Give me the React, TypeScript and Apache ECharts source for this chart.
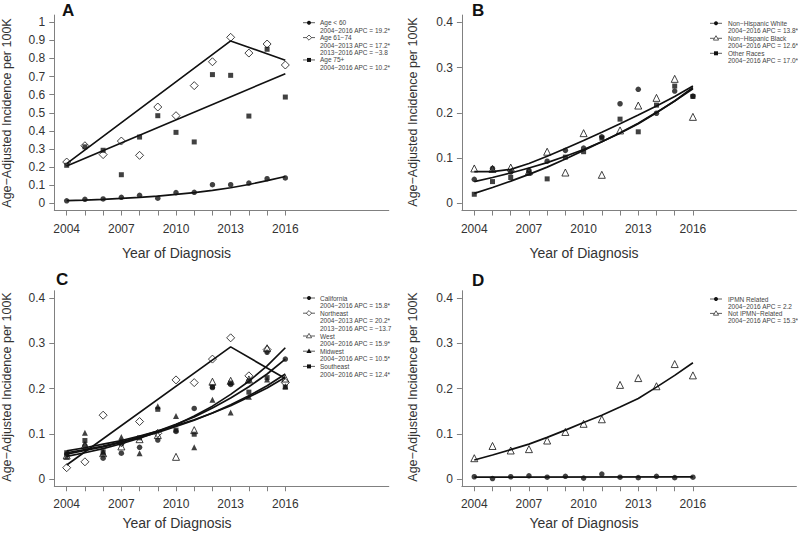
import React, { useEffect, useRef } from "react";
import * as echarts from "echarts";

// ---------- shared axis values ----------
const years = [2004, 2005, 2006, 2007, 2008, 2009, 2010, 2011, 2012, 2013, 2014, 2015, 2016];
const xLabelYears = [2004, 2007, 2010, 2013, 2016];
const yTicksA = [0, 0.1, 0.2, 0.3, 0.4, 0.5, 0.6, 0.7, 0.8, 0.9, 1];
const yTicksSmall = [0, 0.1, 0.2, 0.3, 0.4];
const panelLetters = ["A", "B", "C", "D"];
const xTitle = "Year of Diagnosis";
const yTitle = "Age\u2212Adjusted Incidence per 100K";

// ---------- Panel A: age groups ----------
const ageUnder60 = [0.014, 0.022, 0.024, 0.033, 0.044, 0.028, 0.059, 0.061, 0.103, 0.103, 0.112, 0.136, 0.14];
const age61to74 = [0.228, 0.318, 0.269, 0.344, 0.265, 0.532, 0.484, 0.65, 0.782, 0.917, 0.83, 0.88, 0.764];
const age75plus = [0.21, 0.312, 0.293, 0.158, 0.366, 0.484, 0.392, 0.339, 0.711, 0.707, 0.482, 0.851, 0.587];
const fitUnder60 = [0.015, 0.018, 0.022, 0.027, 0.033, 0.04, 0.049, 0.059, 0.071, 0.086, 0.104, 0.125, 0.148];
const fit61to74Years = [2004, 2013, 2016];
const fit61to74 = [0.219, 0.897, 0.79];
const fit75plusYears = [2004, 2016];
const fit75plus = [0.206, 0.716];

// ---------- Panel B: race ----------
const nhWhite = [0.053, 0.077, 0.069, 0.073, 0.093, 0.117, 0.122, 0.147, 0.22, 0.252, 0.199, 0.248, 0.237];
const nhBlack = [0.077, 0.076, 0.079, 0.071, 0.114, 0.068, 0.155, 0.063, 0.161, 0.216, 0.233, 0.275, 0.191];
const otherRaces = [0.02, 0.048, 0.057, 0.066, 0.054, 0.102, 0.114, 0.144, 0.186, 0.158, 0.217, 0.259, 0.236];
const fitBlack = [0.07, 0.07, 0.075, 0.088, 0.104, 0.121, 0.139, 0.157, 0.176, 0.195, 0.215, 0.236, 0.259];
const fitWhite = [0.048, 0.057, 0.067, 0.078, 0.09, 0.104, 0.119, 0.136, 0.155, 0.176, 0.2, 0.226, 0.256];
const fitOther = [0.022, 0.035, 0.049, 0.064, 0.08, 0.098, 0.117, 0.136, 0.156, 0.177, 0.201, 0.226, 0.253];

// ---------- Panel C: region ----------
const california = [0.055, 0.074, 0.046, 0.057, 0.07, 0.086, 0.105, 0.156, 0.202, 0.209, 0.217, 0.28, 0.265];
const northeast = [0.025, 0.038, 0.141, 0.08, 0.127, 0.101, 0.219, 0.213, 0.265, 0.312, 0.228, 0.286, 0.213];
const west = [0.052, 0.075, 0.057, 0.072, 0.088, 0.097, 0.049, 0.108, 0.215, 0.217, 0.22, 0.289, 0.222];
const midwest = [0.049, 0.102, 0.058, 0.093, 0.057, 0.161, 0.139, 0.07, 0.175, 0.147, 0.182, 0.22, 0.205];
const southeast = [0.058, 0.085, 0.06, 0.079, 0.091, 0.154, 0.108, 0.099, 0.204, 0.212, 0.192, 0.224, 0.203];
const fitCalifornia = [0.055, 0.063, 0.071, 0.081, 0.093, 0.106, 0.121, 0.137, 0.157, 0.179, 0.204, 0.232, 0.265];
const fitNortheastYears = [2004, 2013, 2016];
const fitNortheast = [0.031, 0.292, 0.222];
const fitWest = [0.05, 0.058, 0.067, 0.078, 0.09, 0.104, 0.12, 0.139, 0.161, 0.187, 0.216, 0.25, 0.29];
const fitMidwest = [0.062, 0.069, 0.077, 0.085, 0.095, 0.106, 0.118, 0.131, 0.146, 0.162, 0.181, 0.201, 0.225];
const fitSoutheast = [0.058, 0.065, 0.073, 0.082, 0.092, 0.103, 0.116, 0.13, 0.146, 0.164, 0.184, 0.206, 0.232];

// ---------- Panel D: IPMN ----------
const ipmnRelated = [0.005, 0.001, 0.005, 0.007, 0.004, 0.006, 0.002, 0.011, 0.004, 0.003, 0.006, 0.003, 0.004];
const notIpmn = [0.046, 0.073, 0.063, 0.066, 0.085, 0.104, 0.122, 0.132, 0.208, 0.223, 0.205, 0.254, 0.229];
const fitIpmnYears = [2004, 2016];
const fitIpmn = [0.0042, 0.0046];
const fitNotIpmn = [0.042, 0.053, 0.065, 0.077, 0.092, 0.108, 0.125, 0.141, 0.159, 0.178, 0.203, 0.229, 0.257];

// ---------- legend texts ----------
const legendA = [
  { symbol: "circle", lines: ["Age < 60", "2004\u22122016 APC = 19.2*"] },
  { symbol: "diamond", lines: ["Age 61\u221274", "2004\u22122013 APC = 17.2*", "2013\u22122016 APC = \u22123.8"] },
  { symbol: "square", lines: ["Age 75+", "2004\u22122016 APC = 10.2*"] },
];
const legendB = [
  { symbol: "circle", lines: ["Non\u2212Hispanic White", "2004\u22122016 APC = 13.8*"] },
  { symbol: "triangle", lines: ["Non\u2212Hispanic Black", "2004\u22122016 APC = 12.6*"] },
  { symbol: "square", lines: ["Other Races", "2004\u22122016 APC = 17.0*"] },
];
const legendC = [
  { symbol: "circle", lines: ["California", "2004\u22122016 APC = 15.8*"] },
  { symbol: "diamond", lines: ["Northeast", "2004\u22122013 APC = 20.2*", "2013\u22122016 APC = \u221213.7"] },
  { symbol: "triangle", lines: ["West", "2004\u22122016 APC = 15.9*"] },
  { symbol: "filledTriangle", lines: ["Midwest", "2004\u22122016 APC = 10.5*"] },
  { symbol: "square", lines: ["Southeast", "2004\u22122016 APC = 12.4*"] },
];
const legendD = [
  { symbol: "circle", lines: ["IPMN Related", "2004\u22122016 APC = 2.2"] },
  { symbol: "triangle", lines: ["Not IPMN\u2212Related", "2004\u22122016 APC = 15.3*"] },
];

// ---------- layout ----------
const FONT = "'Liberation Sans', Arial, Helvetica, sans-serif";
const INK = "#111";
const AXIS = "#808080";
const GRID_W = 334.5;
const GRID_H = 195.5;
const panels = [
  { left: 54.3, top: 15.05, yMin: -0.04, yMax: 1.04, yTicks: yTicksA },
  { left: 461.9, top: 15.05, yMin: -0.016, yMax: 0.416, yTicks: yTicksSmall },
  { left: 54.3, top: 290.75, yMin: -0.016, yMax: 0.416, yTicks: yTicksSmall },
  { left: 461.9, top: 290.75, yMin: -0.016, yMax: 0.416, yTicks: yTicksSmall },
];

function pts(xs: number[], ys: number[]) {
  return xs.map((x, i) => [x, ys[i]]);
}

function scatter(g: number, name: string, ys: number[], symbol: string, size: number, open: boolean) {
  return {
    type: "scatter",
    name,
    xAxisIndex: g,
    yAxisIndex: g,
    data: pts(years, ys),
    symbol,
    symbolSize: size,
    itemStyle: open
      ? { color: "rgba(255,255,255,0)", borderColor: INK, borderWidth: 1 }
      : { color: INK, borderWidth: 0 },
    z: 3,
    silent: true,
  };
}

function fitLine(g: number, name: string, xs: number[], ys: number[]) {
  return {
    type: "line",
    name,
    xAxisIndex: g,
    yAxisIndex: g,
    data: pts(xs, ys),
    symbol: "none",
    smooth: false,
    lineStyle: { color: INK, width: 1.7 },
    z: 2,
    silent: true,
  };
}

function marker(symbol: string, cx: number, cy: number) {
  const s = 2.6;
  if (symbol === "circle") return { type: "circle", shape: { cx, cy, r: 2 }, style: { fill: INK } };
  if (symbol === "square") return { type: "rect", shape: { x: cx - 2, y: cy - 2, width: 4, height: 4 }, style: { fill: INK } };
  if (symbol === "diamond")
    return {
      type: "polygon",
      shape: { points: [[cx, cy - s], [cx + s, cy], [cx, cy + s], [cx - s, cy]] },
      style: { fill: "#fff", stroke: "#333", lineWidth: 0.8 },
    };
  const filled = symbol === "filledTriangle";
  return {
    type: "polygon",
    shape: { points: [[cx, cy - s], [cx + s, cy + 1.8], [cx - s, cy + 1.8]] },
    style: filled ? { fill: INK } : { fill: "#fff", stroke: "#333", lineWidth: 0.8 },
  };
}

function legend(x1: number, x2: number, tx: number, y0: number, dy: number, items: { symbol: string; lines: string[] }[]) {
  const els: any[] = [];
  let row = 0;
  for (const it of items) {
    const y = y0 + row * dy;
    els.push({ type: "line", shape: { x1, y1: y, x2, y2: y }, style: { stroke: "#333", lineWidth: 0.8 } });
    els.push(marker(it.symbol, (x1 + x2) / 2, y));
    it.lines.forEach((t, k) => {
      els.push({
        type: "text",
        x: tx,
        y: y0 + (row + k) * dy,
        style: {
          text: t,
          fill: "#444",
          font: `6.5px ${FONT}`,
          textAlign: "left",
          textVerticalAlign: "middle",
          verticalAlign: "middle",
        },
      });
    });
    row += it.lines.length;
  }
  return els;
}

function label(text: string, x: number, y: number, size: number, bold = false, rotate = 0, align = "center") {
  return {
    type: "text",
    x,
    y,
    rotation: rotate,
    style: {
      text,
      fill: bold ? "#111" : "#333",
      font: `${bold ? "bold " : ""}${size}px ${FONT}`,
      textAlign: align,
      textVerticalAlign: "middle",
      verticalAlign: "middle",
    },
  };
}

function buildOption() {
  const grid = panels.map((p) => ({
    left: p.left,
    top: p.top,
    width: GRID_W,
    height: GRID_H,
    containLabel: false,
    outerBoundsMode: "none",
  }));
  const xAxis = panels.map((_, i) => ({
    gridIndex: i,
    type: "value",
    min: 2003.32,
    max: 2021.68,
    axisLine: { show: true, onZero: false, lineStyle: { color: AXIS, width: 1 } },
    axisTick: { show: true, customValues: years, length: 5, lineStyle: { color: AXIS, width: 1 } },
    axisLabel: {
      show: true,
      customValues: xLabelYears,
      margin: 12,
      color: "#333",
      fontSize: 12,
      fontFamily: FONT,
      formatter: (v: number) => String(v),
    },
    splitLine: { show: false },
  }));
  const yAxis = panels.map((p, i) => ({
    gridIndex: i,
    type: "value",
    min: p.yMin,
    max: p.yMax,
    axisLine: { show: true, onZero: false, lineStyle: { color: AXIS, width: 1 } },
    axisTick: { show: true, customValues: p.yTicks, length: 5, lineStyle: { color: AXIS, width: 1 } },
    axisLabel: {
      show: true,
      customValues: p.yTicks,
      margin: 9,
      color: "#333",
      fontSize: 12,
      fontFamily: FONT,
      formatter: (v: number) => String(parseFloat(Number(v).toFixed(1))),
    },
    splitLine: { show: false },
  }));

  const series = [
    // A
    fitLine(0, "fit <60", years, fitUnder60),
    fitLine(0, "fit 61-74", fit61to74Years, fit61to74),
    fitLine(0, "fit 75+", fit75plusYears, fit75plus),
    scatter(0, "Age < 60", ageUnder60, "circle", 5.5, false),
    scatter(0, "Age 61-74", age61to74, "diamond", 8, true),
    scatter(0, "Age 75+", age75plus, "rect", 5, false),
    // B
    fitLine(1, "fit black", years, fitBlack),
    fitLine(1, "fit white", years, fitWhite),
    fitLine(1, "fit other", years, fitOther),
    scatter(1, "Non-Hispanic White", nhWhite, "circle", 5.5, false),
    scatter(1, "Non-Hispanic Black", nhBlack, "triangle", 7, true),
    scatter(1, "Other Races", otherRaces, "rect", 5, false),
    // C
    fitLine(2, "fit CA", years, fitCalifornia),
    fitLine(2, "fit NE", fitNortheastYears, fitNortheast),
    fitLine(2, "fit W", years, fitWest),
    fitLine(2, "fit MW", years, fitMidwest),
    fitLine(2, "fit SE", years, fitSoutheast),
    scatter(2, "California", california, "circle", 5.5, false),
    scatter(2, "Northeast", northeast, "diamond", 8, true),
    scatter(2, "West", west, "triangle", 7, true),
    scatter(2, "Midwest", midwest, "triangle", 6, false),
    scatter(2, "Southeast", southeast, "rect", 5, false),
    // D
    fitLine(3, "fit IPMN", fitIpmnYears, fitIpmn),
    fitLine(3, "fit not IPMN", years, fitNotIpmn),
    scatter(3, "IPMN Related", ipmnRelated, "circle", 5.5, false),
    scatter(3, "Not IPMN-Related", notIpmn, "triangle", 7, true),
  ];

  const graphic = [
    label(panelLetters[0], 62, 10, 17, true, 0, "left"),
    label(panelLetters[1], 472, 10, 17, true, 0, "left"),
    label(panelLetters[2], 56, 279.5, 17, true, 0, "left"),
    label(panelLetters[3], 472, 280.5, 17, true, 0, "left"),
    label(xTitle, 176.5, 253, 14),
    label(xTitle, 584, 253, 14),
    label(xTitle, 177, 523, 14),
    label(xTitle, 584, 523, 14),
    label(yTitle, 6.5, 113, 12.5, false, Math.PI / 2),
    label(yTitle, 413, 112, 12.5, false, Math.PI / 2),
    label(yTitle, 6.5, 387, 12.5, false, Math.PI / 2),
    label(yTitle, 413, 387, 12.5, false, Math.PI / 2),
    ...legend(303, 315, 320, 22.7, 7.45, legendA),
    ...legend(710, 722, 728, 23.3, 7.5, legendB),
    ...legend(303, 315, 320, 298, 7.6, legendC),
    ...legend(710, 722, 728, 299, 7.2, legendD),
  ];

  return {
    animation: false,
    backgroundColor: "#ffffff",
    textStyle: { fontFamily: FONT },
    grid,
    xAxis,
    yAxis,
    series,
    graphic,
  };
}

export default function App() {
  const ref = useRef<HTMLDivElement>(null);
  useEffect(() => {
    if (!ref.current) return;
    const chart = echarts.init(ref.current, undefined, { renderer: "svg" });
    chart.setOption(buildOption() as any);
    return () => chart.dispose();
  }, []);
  return (
    <div
      ref={ref}
      style={{ position: "fixed", left: 0, top: 0, width: 798, height: 537, background: "#fff" }}
    />
  );
}
